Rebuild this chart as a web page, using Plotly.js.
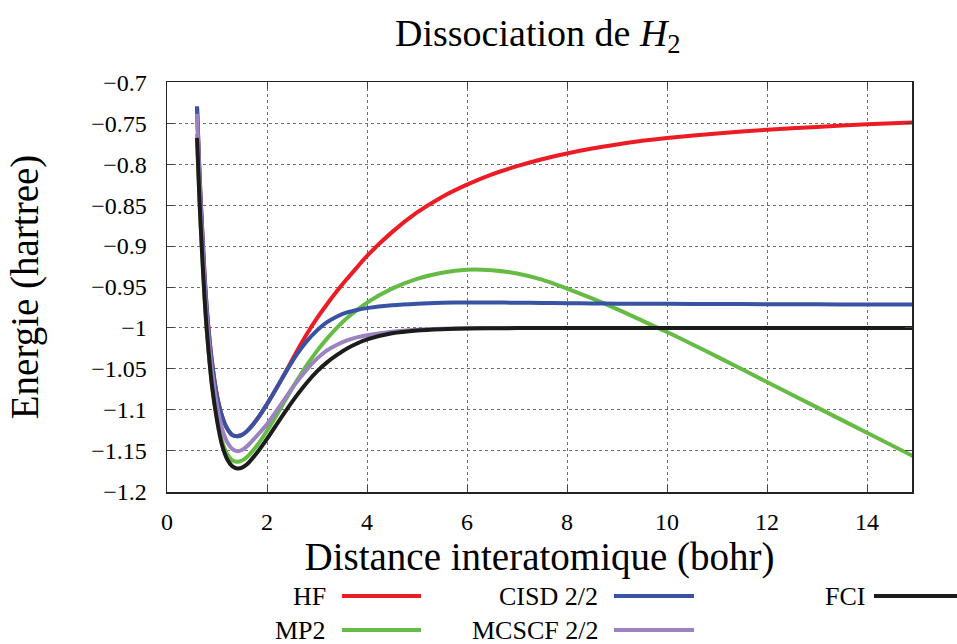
<!DOCTYPE html>
<html>
<head>
<meta charset="utf-8">
<script src="https://cdn.plot.ly/plotly-3.0.1.min.js"></script>
<style>html,body{margin:0;padding:0;background:#fff;}#chart{width:957px;height:644px;}</style>
</head>
<body>
<div id="chart"></div>
<script>
// Interatomic distance (bohr)
const distance = [0.6, 0.65, 0.7, 0.75, 0.8, 0.9, 1.0, 1.1, 1.2, 1.3, 1.4, 1.5, 1.6, 1.8, 2.0, 2.2, 2.4, 2.6, 2.8, 3.0, 3.2, 3.4, 3.6, 3.8, 4.0, 4.5, 5.0, 5.5, 6.0, 6.5, 7.0, 7.5, 8.0, 8.5, 9.0, 9.5, 10.0, 11.0, 12.0, 13.0, 14.0, 15.0];

// Energies (hartree)
const hf    = [-0.7296, -0.812, -0.876, -0.934, -0.980, -1.042, -1.083, -1.1075, -1.1225, -1.1305, -1.1321, -1.1305, -1.126, -1.1115, -1.093, -1.0725, -1.0505, -1.028, -1.007, -0.988, -0.971, -0.955, -0.940, -0.926, -0.912, -0.883, -0.859, -0.840, -0.825, -0.8125, -0.8025, -0.794, -0.787, -0.781, -0.776, -0.7715, -0.768, -0.7625, -0.758, -0.7545, -0.7513, -0.7488];
const mp2   = [-0.763, -0.845, -0.905, -0.962, -1.006, -1.069, -1.110, -1.138, -1.1535, -1.1613, -1.1634, -1.1618, -1.1575, -1.1435, -1.1255, -1.1055, -1.0845, -1.064, -1.045, -1.028, -1.013, -0.9995, -0.988, -0.978, -0.969, -0.952, -0.940, -0.9325, -0.9288, -0.9295, -0.9335, -0.941, -0.952, -0.964, -0.977, -0.991, -1.005, -1.035, -1.066, -1.097, -1.128, -1.159];
const cisd  = [-0.7296, -0.812, -0.876, -0.934, -0.980, -1.042, -1.083, -1.1075, -1.1225, -1.1305, -1.1321, -1.1305, -1.126, -1.1115, -1.093, -1.0725, -1.0515, -1.032, -1.016, -1.003, -0.993, -0.986, -0.981, -0.978, -0.9758, -0.9723, -0.9703, -0.9692, -0.9688, -0.9689, -0.9692, -0.9695, -0.9698, -0.9701, -0.9703, -0.9705, -0.9706, -0.9708, -0.971, -0.9712, -0.9714, -0.9715];
const mcscf = [-0.7386, -0.822, -0.886, -0.944, -0.990, -1.053, -1.095, -1.123, -1.139, -1.1475, -1.1504, -1.149, -1.1445, -1.1315, -1.1175, -1.1005, -1.0825, -1.0655, -1.0505, -1.0375, -1.0275, -1.0205, -1.0152, -1.0115, -1.0088, -1.0045, -1.0022, -1.001, -1.0004, -1.0002, -1.0001, -1.0, -1.0, -1.0, -1.0, -1.0, -1.0, -1.0, -1.0, -1.0, -1.0, -1.0];
const fci   = [-0.768, -0.845, -0.907, -0.962, -1.006, -1.071, -1.113, -1.143, -1.160, -1.1685, -1.1715, -1.1705, -1.1665, -1.1525, -1.1355, -1.117, -1.099, -1.082, -1.0665, -1.053, -1.042, -1.033, -1.025, -1.019, -1.014, -1.0065, -1.003, -1.0015, -1.0007, -1.0004, -1.0002, -1.0001, -1.0, -1.0, -1.0, -1.0, -1.0, -1.0, -1.0, -1.0, -1.0, -1.0];

const seriesNames  = ["HF", "MP2", "CISD 2/2", "MCSCF 2/2", "FCI"];
const seriesValues = [hf, mp2, cisd, mcscf, fci];
const seriesColors = ["#ec1c24", "#66bb44", "#3953a4", "#9b82c0", "#1c1c1c"];

const xTickVals = [0, 2, 4, 6, 8, 10, 12, 14];

const FONT = "Liberation Serif, serif";

const traces = seriesNames.map((n, i) => ({
  x: distance, y: seriesValues[i], name: n, type: "scatter", mode: "lines",
  line: {color: seriesColors[i], width: 4, shape: "spline", smoothing: 0.8}, showlegend: false
}));

// custom gnuplot-style key (text then line sample), slot positions in px
const W = 957, H = 644, L = 167, R = 912, T = 82, B = 492;
const px2x = p => (p - L) / (R - L);
const py2y = p => (B - p) / (B - T);
const keySlots = [
  {tx: 328, lx0: 342, lx1: 421, y: 596},  // HF
  {tx: 328, lx0: 342, lx1: 421, y: 630},  // MP2
  {tx: 600, lx0: 614, lx1: 694, y: 596},  // CISD
  {tx: 600, lx0: 614, lx1: 694, y: 630},  // MCSCF
  {tx: 867, lx0: 874, lx1: 957, y: 596}   // FCI
];
const annotations = [];
const shapes = [];
seriesNames.forEach((n, i) => {
  const s = keySlots[i];
  annotations.push({text: n, xref: "paper", yref: "paper", x: px2x(s.tx), y: py2y(s.y),
    xanchor: "right", yanchor: "middle", showarrow: false,
    font: {family: FONT, size: 26, color: "#000"}});
  shapes.push({type: "line", xref: "paper", yref: "paper", x0: px2x(s.lx0), x1: px2x(s.lx1),
    y0: py2y(s.y), y1: py2y(s.y), line: {color: seriesColors[i], width: 4}});
});

const layout = {
  width: W, height: H,
  margin: {l: L, r: W - R, t: T, b: H - B, pad: 0},
  paper_bgcolor: "#fff", plot_bgcolor: "#fff",
  font: {family: FONT, color: "#000", size: 20},
  title: {text: "Dissociation de <i>H</i><sub>2</sub>", x: 0.562, xanchor: "center", y: 0.95, yanchor: "middle",
    font: {family: FONT, size: 38, color: "#000"}},
  xaxis: {
    range: [-0.0005, 14.9], tickvals: xTickVals, ticks: "inside", ticklen: 7, tickwidth: 1,
    showline: true, linecolor: "#222", linewidth: 1.5, mirror: "ticks",
    showgrid: true, gridcolor: "#6e6e6e", griddash: "dot", gridwidth: 1, zeroline: false,
    tickfont: {size: 24}, ticklabelstandoff: 8,
    title: {text: "Distance interatomique (bohr)", font: {size: 39}, standoff: 8}
  },
  yaxis: {
    range: [-1.2003, -0.6997], tick0: -1.2, dtick: 0.05, ticks: "inside", ticklen: 7, tickwidth: 1,
    showline: true, linecolor: "#222", linewidth: 1.5, mirror: "ticks",
    showgrid: true, gridcolor: "#6e6e6e", griddash: "dot", gridwidth: 1, zeroline: false,
    tickfont: {size: 24}, ticklabelstandoff: 14,
    title: {text: "Energie (hartree)", font: {size: 39}, standoff: 40}
  },
  annotations: annotations,
  shapes: shapes
};

Plotly.newPlot("chart", traces, layout, {staticPlot: true, displayModeBar: false});
</script>
</body>
</html>
